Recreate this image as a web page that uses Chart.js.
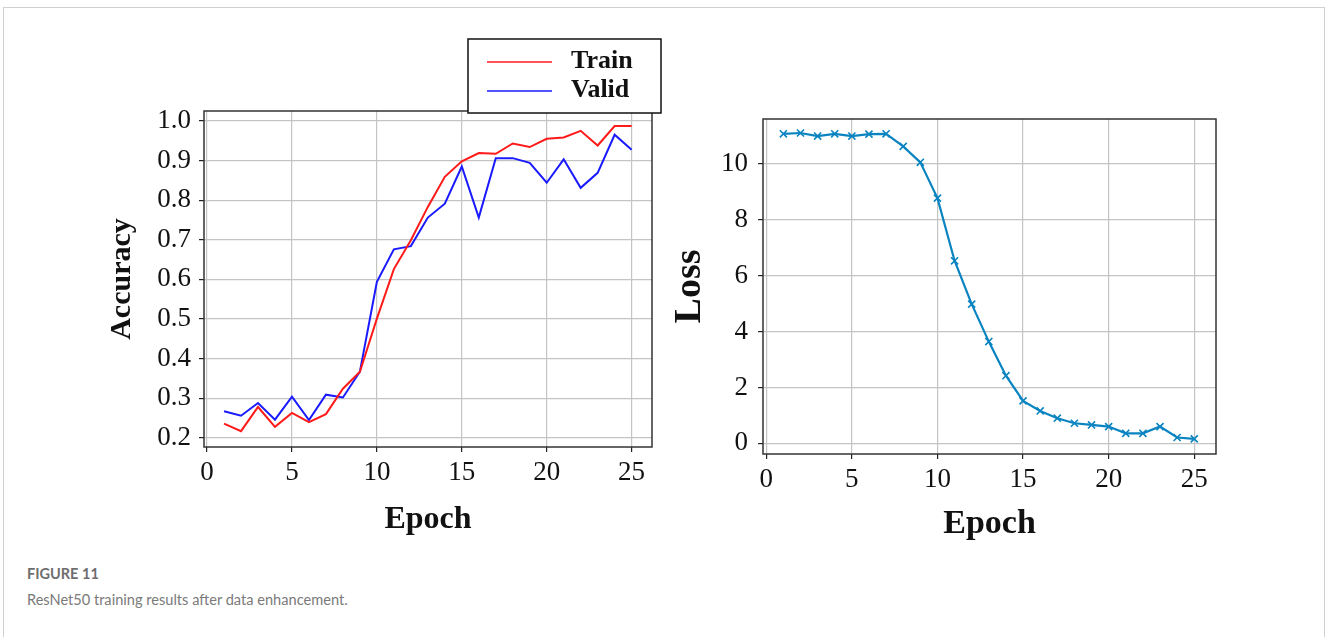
<!DOCTYPE html>
<html>
<head>
<meta charset="utf-8">
<script src="https://cdn.jsdelivr.net/npm/chart.js@4.4.1/dist/chart.umd.min.js"></script>
<style>
  html, body { margin: 0; padding: 0; background: #fff; }
  body { width: 1327px; height: 637px; position: relative; overflow: hidden; }
  .card { position: absolute; left: 3px; top: 7px; width: 1322px; height: 700px; border: 1px solid #d0d0d0; box-sizing: border-box; }
  #accChart { position: absolute; left: 100px; top: 30px; }
  #lossChart { position: absolute; left: 660px; top: 30px; }
  .fig { position: absolute; left: 27px; top: 565px; font-family: Lato, "Noto Sans", sans-serif; font-weight: 700; font-size: 14.5px; color: #6e6e6e; }
  .cap { position: absolute; left: 27px; top: 591px; font-family: Lato, "Noto Sans", sans-serif; font-size: 14.6px; color: #7a7a7a; }
</style>
</head>
<body>
<div class="card"></div>
<canvas id="accChart" width="600" height="520"></canvas>
<canvas id="lossChart" width="620" height="530"></canvas>
<div class="fig">FIGURE 11</div>
<div class="cap">ResNet50 training results after data enhancement.</div>
<script>
// epochs 1..25
const epochs = [1, 2, 3, 4, 5, 6, 7, 8, 9, 10, 11, 12, 13, 14, 15, 16, 17, 18, 19, 20, 21, 22, 23, 24, 25];

// accuracy curves
const trainAcc = [0.236, 0.217, 0.278, 0.228, 0.263, 0.240, 0.260, 0.324, 0.367, 0.501,
                  0.626, 0.699, 0.783, 0.859, 0.898, 0.919, 0.917, 0.943, 0.934, 0.955,
                  0.958, 0.975, 0.938, 0.987, 0.987];
const validAcc = [0.267, 0.256, 0.288, 0.246, 0.304, 0.245, 0.309, 0.302, 0.367, 0.594,
                  0.676, 0.684, 0.756, 0.791, 0.885, 0.756, 0.906, 0.906, 0.894, 0.844,
                  0.903, 0.831, 0.869, 0.965, 0.927];

// loss curve
const lossVals = [11.07, 11.10, 10.99, 11.07, 10.99, 11.06, 11.07, 10.62, 10.05, 8.77,
                  6.53, 4.98, 3.64, 2.42, 1.52, 1.16, 0.90, 0.72, 0.66, 0.60,
                  0.36, 0.36, 0.60, 0.21, 0.16];

// tick labels
const epochTicks = [0, 5, 10, 15, 20, 25];
const accTicks = [0.2, 0.3, 0.4, 0.5, 0.6, 0.7, 0.8, 0.9, 1.0];
const lossTicks = [0, 2, 4, 6, 8, 10];

const serif = '"Liberation Serif", "Times New Roman", serif';

const toPoints = (ys) => epochs.map((e, i) => ({ x: e, y: ys[i] }));
const fixTicks = (list) => (scale) => { scale.ticks = list.map(v => ({ value: v })); };

// frame around the plot area
const framePlugin = {
  id: 'frame',
  afterDraw(chart) {
    const { ctx, chartArea: a } = chart;
    ctx.save();
    ctx.strokeStyle = '#333';
    ctx.lineWidth = 1.5;
    ctx.strokeRect(a.left, a.top, a.right - a.left, a.bottom - a.top);
    ctx.restore();
  }
};

// boxed legend sitting over the top of the accuracy plot
const boxLegend = {
  id: 'boxLegend',
  afterDraw(chart) {
    const ctx = chart.ctx;
    const x = 368, y = 9, w = 193, h = 74;
    ctx.save();
    ctx.fillStyle = '#fff';
    ctx.fillRect(x, y, w, h);
    ctx.strokeStyle = '#111';
    ctx.lineWidth = 1.5;
    ctx.strokeRect(x, y, w, h);
    ctx.font = 'bold 26px ' + serif;
    ctx.textBaseline = 'middle';
    chart.data.datasets.forEach((ds, i) => {
      const ly = y + 23 + i * 29;
      ctx.strokeStyle = ds.borderColor;
      ctx.lineWidth = 1.5;
      ctx.beginPath();
      ctx.moveTo(x + 19, ly);
      ctx.lineTo(x + 84, ly);
      ctx.stroke();
      ctx.fillStyle = '#111';
      ctx.fillText(ds.label, x + 103, ly - 1);
    });
    ctx.restore();
  }
};

const gridOpts = { color: '#c4c4c4', lineWidth: 1.2, tickColor: '#222', tickLength: 5 };

new Chart(document.getElementById('accChart'), {
  type: 'line',
  data: {
    datasets: [
      { label: 'Train', data: toPoints(trainAcc), borderColor: '#ff1a1a', borderWidth: 2, pointRadius: 0, tension: 0 },
      { label: 'Valid', data: toPoints(validAcc), borderColor: '#1a1aff', borderWidth: 2, pointRadius: 0, tension: 0 }
    ]
  },
  options: {
    responsive: false,
    animation: false,
    devicePixelRatio: 1,
    layout: { padding: { top: 81, right: 48, left: 0, bottom: 0 } },
    plugins: { legend: { display: false }, tooltip: { enabled: false } },
    scales: {
      x: {
        type: 'linear', min: -0.18, max: 26.2,
        afterBuildTicks: fixTicks(epochTicks),
        afterFit: (s) => { s.height = 103; },
        grid: gridOpts,
        border: { display: false },
        ticks: { font: { family: serif, size: 27 }, color: '#111', padding: 5, maxRotation: 0 },
        title: { display: true, text: 'Epoch', color: '#111', font: { family: serif, size: 32, weight: 'bold' }, padding: { top: 0, bottom: 11 } }
      },
      y: {
        min: 0.177, max: 1.025,
        afterBuildTicks: fixTicks(accTicks),
        afterFit: (s) => { s.width = 104; },
        grid: gridOpts,
        border: { display: false },
        ticks: { font: { family: serif, size: 27 }, color: '#111', padding: 8, callback: (v) => v.toFixed(1) },
        title: { display: true, text: 'Accuracy', color: '#111', font: { family: serif, size: 30, weight: 'bold' }, padding: { top: 4, bottom: 0 } }
      }
    }
  },
  plugins: [framePlugin, boxLegend]
});

new Chart(document.getElementById('lossChart'), {
  type: 'line',
  data: {
    datasets: [
      { label: 'Loss', data: toPoints(lossVals), borderColor: '#0a84c1', borderWidth: 2.2,
        pointStyle: 'crossRot', pointRadius: 5, pointBorderWidth: 1.6, pointBorderColor: '#0a84c1', tension: 0 }
    ]
  },
  options: {
    responsive: false,
    animation: false,
    devicePixelRatio: 1,
    layout: { padding: { top: 89, right: 64, left: 0, bottom: 0 } },
    plugins: { legend: { display: false }, tooltip: { enabled: false } },
    scales: {
      x: {
        type: 'linear', min: -0.19, max: 26.27,
        afterBuildTicks: fixTicks(epochTicks),
        afterFit: (s) => { s.height = 106; },
        grid: gridOpts,
        border: { display: false },
        ticks: { font: { family: serif, size: 27 }, color: '#111', padding: 5, maxRotation: 0 },
        title: { display: true, text: 'Epoch', color: '#111', font: { family: serif, size: 34, weight: 'bold' }, padding: { top: 0, bottom: 15 } }
      },
      y: {
        min: -0.38, max: 11.6,
        afterBuildTicks: fixTicks(lossTicks),
        afterFit: (s) => { s.width = 103; },
        grid: gridOpts,
        border: { display: false },
        ticks: { font: { family: serif, size: 27 }, color: '#111', padding: 10 },
        title: { display: true, text: 'Loss', color: '#111', font: { family: serif, size: 38, weight: 'bold' }, padding: { top: 7, bottom: 0 } }
      }
    }
  },
  plugins: [framePlugin]
});
</script>
</body>
</html>
